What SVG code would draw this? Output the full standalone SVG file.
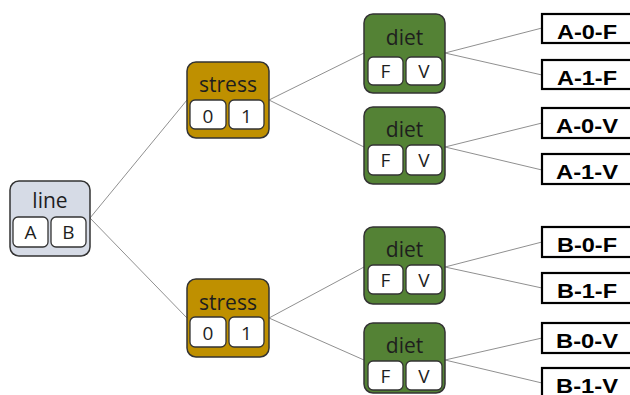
<svg xmlns="http://www.w3.org/2000/svg" width="630" height="395" viewBox="0 0 630 395">
<style>
.node{stroke:#333;stroke-width:1.5}
.line{fill:#d6dbe6}
.stress{fill:#bf9000}
.diet{fill:#548235}
.sub{fill:#ffffff;stroke:#333;stroke-width:1.3}
.t{font-family:"Open Sans","Noto Sans",sans-serif;font-size:21px;fill:#1e1e1e;text-anchor:middle}
.s{font-family:"Open Sans","Noto Sans",sans-serif;font-size:19px;fill:#1e1e1e;text-anchor:middle}
.res{fill:#ffffff;stroke:#000;stroke-width:2.2}
.r{font-family:"Liberation Sans",Arial,sans-serif;font-weight:bold;font-size:21px;fill:#000;text-anchor:middle}
.c{stroke:#909090;stroke-width:1;fill:none}
</style>
<g id="connectors">
<line class="c" x1="90" y1="218" x2="187" y2="100"/>
<line class="c" x1="90" y1="218" x2="187" y2="318"/>
<line class="c" x1="269" y1="100" x2="364" y2="53"/>
<line class="c" x1="269" y1="100" x2="364" y2="147"/>
<line class="c" x1="269" y1="318" x2="364" y2="267"/>
<line class="c" x1="269" y1="318" x2="364" y2="360"/>
<line class="c" x1="445" y1="53" x2="542" y2="28"/>
<line class="c" x1="445" y1="53" x2="542" y2="75"/>
<line class="c" x1="445" y1="147" x2="542" y2="123"/>
<line class="c" x1="445" y1="147" x2="542" y2="170"/>
<line class="c" x1="445" y1="267" x2="542" y2="242"/>
<line class="c" x1="445" y1="267" x2="542" y2="288"/>
<line class="c" x1="445" y1="360" x2="542" y2="338"/>
<line class="c" x1="445" y1="360" x2="542" y2="383"/>
</g>
<g id="node-line">
<rect class="node line" x="10" y="181" width="80" height="75" rx="9"/>
<text class="t" x="50" y="208">line</text>
<rect class="sub" x="13" y="217" width="35" height="30" rx="5"/>
<text class="s" x="30.5" y="239">A</text>
<rect class="sub" x="51" y="217" width="35" height="30" rx="5"/>
<text class="s" x="68.5" y="239">B</text>
</g>
<g id="node-stress-top">
<rect class="node stress" x="187" y="62" width="82" height="76" rx="9"/>
<text class="t" x="228" y="92">stress</text>
<rect class="sub" x="190" y="100" width="36" height="29" rx="5"/>
<text class="s" x="208" y="122.5">0</text>
<rect class="sub" x="229" y="100" width="35" height="29" rx="5"/>
<text class="s" x="246.5" y="122.5">1</text>
</g>
<g id="node-stress-bottom">
<rect class="node stress" x="187" y="279" width="82" height="78" rx="9"/>
<text class="t" x="228" y="310">stress</text>
<rect class="sub" x="190" y="317" width="36" height="30" rx="5"/>
<text class="s" x="208" y="339.5">0</text>
<rect class="sub" x="229" y="317" width="35" height="30" rx="5"/>
<text class="s" x="246.5" y="339.5">1</text>
</g>
<g id="node-diet-1">
<rect class="node diet" x="364" y="14" width="81" height="79" rx="9"/>
<text class="t" x="404.5" y="45">diet</text>
<rect class="sub" x="368" y="57" width="35" height="28" rx="5"/>
<text class="s" x="385.5" y="78">F</text>
<rect class="sub" x="406" y="57" width="36" height="28" rx="5"/>
<text class="s" x="424" y="78">V</text>
</g>
<g id="node-diet-2">
<rect class="node diet" x="364" y="107" width="81" height="77" rx="9"/>
<text class="t" x="404.5" y="137">diet</text>
<rect class="sub" x="368" y="145" width="35" height="30" rx="5"/>
<text class="s" x="385.5" y="167">F</text>
<rect class="sub" x="406" y="145" width="36" height="30" rx="5"/>
<text class="s" x="424" y="167">V</text>
</g>
<g id="node-diet-3">
<rect class="node diet" x="364" y="227" width="81" height="77" rx="9"/>
<text class="t" x="404.5" y="257">diet</text>
<rect class="sub" x="368" y="265" width="35" height="29" rx="5"/>
<text class="s" x="385.5" y="287">F</text>
<rect class="sub" x="406" y="265" width="36" height="29" rx="5"/>
<text class="s" x="424" y="287">V</text>
</g>
<g id="node-diet-4">
<rect class="node diet" x="364" y="323" width="81" height="70" rx="9"/>
<text class="t" x="404.5" y="353">diet</text>
<rect class="sub" x="368" y="361" width="35" height="29" rx="5"/>
<text class="s" x="385.5" y="383">F</text>
<rect class="sub" x="406" y="361" width="36" height="29" rx="5"/>
<text class="s" x="424" y="383">V</text>
</g>
<g id="res-A-0-F"><rect class="res" x="542" y="14" width="100" height="29"/><text class="r" x="587" y="38.5" textLength="60" lengthAdjust="spacingAndGlyphs">A-0-F</text></g>
<g id="res-A-1-F"><rect class="res" x="542" y="60" width="100" height="29"/><text class="r" x="587" y="84.5" textLength="60" lengthAdjust="spacingAndGlyphs">A-1-F</text></g>
<g id="res-A-0-V"><rect class="res" x="542" y="108" width="100" height="30"/><text class="r" x="587" y="132.5" textLength="62" lengthAdjust="spacingAndGlyphs">A-0-V</text></g>
<g id="res-A-1-V"><rect class="res" x="542" y="154" width="100" height="30"/><text class="r" x="587" y="178.5" textLength="62" lengthAdjust="spacingAndGlyphs">A-1-V</text></g>
<g id="res-B-0-F"><rect class="res" x="542" y="227" width="100" height="30"/><text class="r" x="587" y="251.5" textLength="60" lengthAdjust="spacingAndGlyphs">B-0-F</text></g>
<g id="res-B-1-F"><rect class="res" x="542" y="273" width="100" height="30"/><text class="r" x="587" y="297.5" textLength="60" lengthAdjust="spacingAndGlyphs">B-1-F</text></g>
<g id="res-B-0-V"><rect class="res" x="542" y="323" width="100" height="30"/><text class="r" x="587" y="347.5" textLength="62" lengthAdjust="spacingAndGlyphs">B-0-V</text></g>
<g id="res-B-1-V"><rect class="res" x="542" y="368" width="100" height="30"/><text class="r" x="587" y="392.5" textLength="62" lengthAdjust="spacingAndGlyphs">B-1-V</text></g>
</svg>
